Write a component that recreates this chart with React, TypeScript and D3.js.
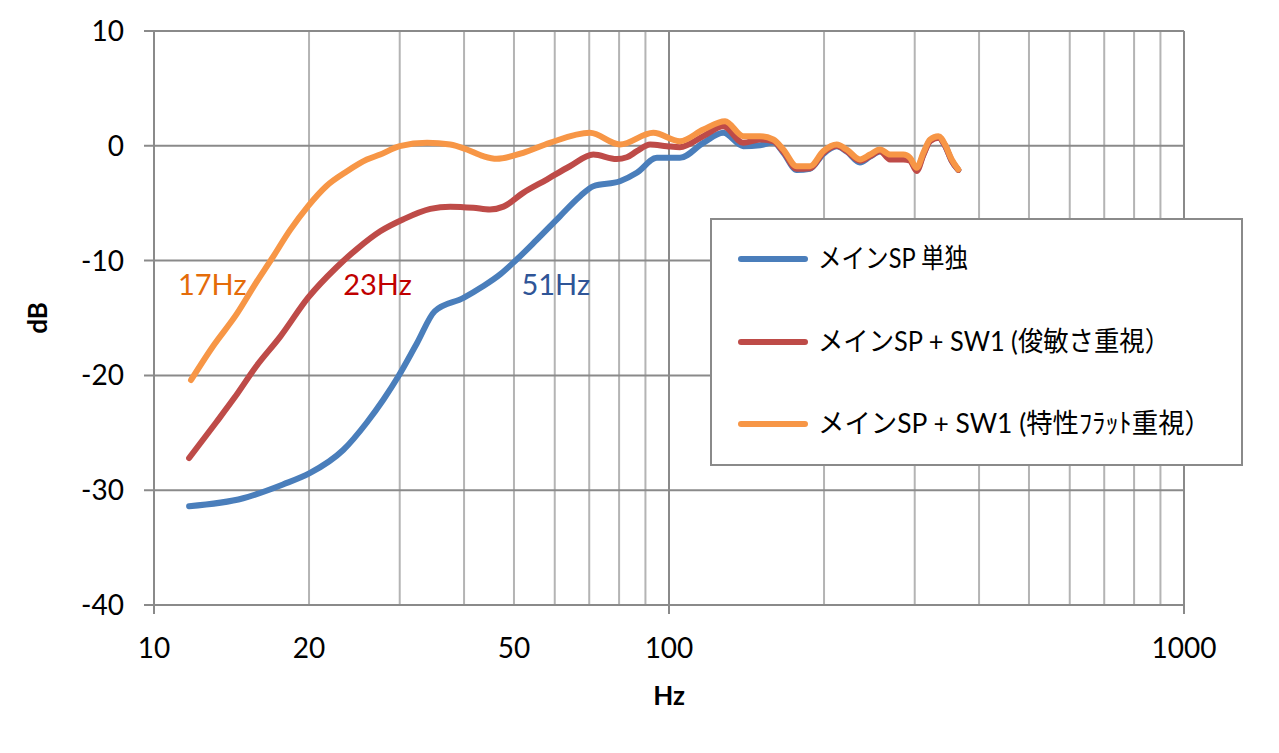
import React from "react";
import * as d3 from "d3";

// ---- data (Hz, dB) ----
const blueFreq = [11.7, 14.9, 17.8, 20.1, 23.3, 25.9, 27.9, 29.8, 32.4, 35.1, 39.9, 43.3, 47.0, 49.8, 55.4, 61.4, 67.2, 71.3, 80.3, 86.6, 94.7, 105, 116.6, 127.5, 139.4, 150.2, 159.4, 166.7, 177, 187.9, 199.4, 211.7, 221.3, 234.9, 245.7, 256.9, 268.6, 285.1, 293.8, 302.7, 311.8, 321.3, 333.4, 343.6, 353.9, 364.5];
const blueDb = [-31.4, -30.7, -29.5, -28.5, -26.5, -24.1, -22.1, -20.1, -17.2, -14.4, -13.25, -12.3, -11.2, -10.2, -8.17, -6.14, -4.39, -3.52, -3.09, -2.35, -1.05, -1.05, 0.26, 1.13, -0.03, 0.05, 0.3, -0.6, -2.1, -2.0, -0.7, -0.05, -0.5, -1.45, -0.95, -0.5, -0.9, -0.9, -1.2, -2.05, -0.75, 0.45, 0.75, 0.0, -1.3, -2.1];

const redFreq = [11.7, 13.2, 14.3, 15.8, 17.6, 19.9, 22.6, 24.7, 27.5, 30.5, 34.4, 37.6, 41.7, 44.9, 47.7, 52.1, 57.9, 64.2, 71.3, 79.1, 82.8, 86.6, 91.9, 99.0, 105, 116.6, 127.5, 139.4, 150.2, 159.4, 166.7, 177, 187.9, 199.4, 211.7, 221.3, 234.9, 245.7, 256.9, 268.6, 285.1, 293.8, 302.7, 311.8, 321.3, 333.4, 343.6, 353.9, 364.5];
const redDb = [-27.2, -24.1, -22.0, -19.2, -16.6, -13.25, -10.6, -9.04, -7.45, -6.4, -5.5, -5.3, -5.4, -5.55, -5.3, -4.1, -2.94, -1.78, -0.76, -1.15, -1.0, -0.47, 0.11, -0.03, -0.12, 0.84, 1.7, 0.26, 0.55, 0.4, -0.5, -2.0, -1.95, -0.6, 0.0, -0.45, -1.3, -0.9, -0.45, -1.2, -1.2, -1.3, -2.2, -0.8, 0.4, 0.7, 0.0, -1.3, -2.1];

const orangeFreq = [11.8, 13.0, 14.5, 15.8, 16.9, 18.4, 19.9, 21.6, 23.7, 25.9, 27.5, 30.0, 33.9, 37.6, 40.5, 43.6, 46.3, 52.1, 58.7, 70.2, 80.3, 93.2, 105, 116.6, 128.5, 139.4, 150.2, 159.4, 166.7, 177, 187.9, 199.4, 211.7, 221.3, 234.9, 245.7, 256.9, 268.6, 285.1, 293.8, 302.7, 311.8, 321.3, 333.4, 343.6, 353.9, 364.5];
const orangeDb = [-20.4, -17.5, -14.6, -11.9, -9.9, -7.3, -5.27, -3.52, -2.22, -1.2, -0.76, -0.03, 0.26, 0.11, -0.32, -0.9, -1.13, -0.61, 0.26, 1.13, 0.11, 1.13, 0.4, 1.42, 2.14, 0.84, 0.84, 0.55, -0.32, -1.78, -1.78, -0.47, 0.11, -0.32, -1.19, -0.76, -0.32, -0.76, -0.76, -1.05, -1.92, -0.61, 0.55, 0.84, 0.11, -1.19, -2.06];

const seriesNames = ["メインSP 単独", "メインSP + SW1 (俊敏さ重視）", "メインSP + SW1 (特性ﾌﾗｯﾄ重視）"];
const seriesColors = ["#4A7EBB", "#BE4B48", "#F79646"];

const yTicks = [10, 0, -10, -20, -30, -40];
const xMajorTicks = [10, 100, 1000];
const xLabelTicks = [10, 20, 50, 100, 1000];
const xMinorTicks = [20, 30, 40, 50, 60, 70, 80, 90, 200, 300, 400, 500, 600, 700, 800, 900];

const annotations = [
  { text: "17Hz", freq: 11.13, db: -12.1, color: "#E46C0A" },
  { text: "23Hz", freq: 23.3, db: -12.1, color: "#C00000" },
  { text: "51Hz", freq: 51.7, db: -12.1, color: "#2F5597" },
];

const W = 1279;
const H = 753;
const FONT = "Lato, 'Noto Sans CJK JP', sans-serif";

export default function App() {
  const x = d3.scaleLog().domain([10, 1000]).range([154, 1184]);
  const y = d3.scaleLinear().domain([-40, 10]).range([605, 31]);

  const line = d3
    .line<[number, number]>()
    .x((d) => x(d[0]))
    .y((d) => y(d[1]))
    .curve(d3.curveMonotoneX);

  const series = [
    { f: blueFreq, v: blueDb },
    { f: redFreq, v: redDb },
    { f: orangeFreq, v: orangeDb },
  ];

  const legendX = 711;
  const legendY = 219;
  const legendW = 531;
  const legendH = 246;
  const legendRows = [259, 342, 424];
  const legendTextLen = [150, 352, 393];

  return (
    <svg
      width={W}
      height={H}
      style={{ position: "fixed", left: 0, top: 0, background: "#fff" }}
      fontFamily={FONT}
    >
      <rect x={0} y={0} width={W} height={H} fill="#fff" />
      {xMinorTicks.map((t) => (
        <line key={"mv" + t} x1={x(t)} x2={x(t)} y1={y(10)} y2={y(-40)} stroke="#b4b4b4" strokeWidth={2} />
      ))}
      {xMajorTicks.map((t) => (
        <line key={"Mv" + t} x1={x(t)} x2={x(t)} y1={y(10)} y2={y(-40) + 9} stroke="#8a8a8a" strokeWidth={2} />
      ))}
      {yTicks.map((t) => (
        <line key={"h" + t} x1={x(10) - 10} x2={x(1000)} y1={y(t)} y2={y(t)} stroke="#8a8a8a" strokeWidth={2} />
      ))}
      {yTicks.map((t) => (
        <text key={"yl" + t} x={124} y={y(t)} dy="0.36em" textAnchor="end" fontSize={28} fill="#000">
          {t}
        </text>
      ))}
      {xLabelTicks.map((t) => (
        <text key={"xl" + t} x={x(t)} y={658} textAnchor="middle" fontSize={28} fill="#000">
          {t}
        </text>
      ))}
      <text x={x(100)} y={705} textAnchor="middle" fontSize={26} fontWeight="bold" fill="#000">
        Hz
      </text>
      <text
        transform={`translate(47, ${y(-15)}) rotate(-90)`}
        textAnchor="middle"
        fontSize={26}
        fontWeight="bold"
        fill="#000"
      >
        dB
      </text>
      {series.map((s, i) => (
        <path
          key={"s" + i}
          d={line(s.f.map((f, j) => [f, s.v[j]] as [number, number])) || ""}
          fill="none"
          stroke={seriesColors[i]}
          strokeWidth={6}
          strokeLinecap="round"
          strokeLinejoin="round"
        />
      ))}
      {annotations.map((a) => (
        <text key={a.text} x={x(a.freq)} y={y(a.db)} dy="0.36em" fontSize={29} fill={a.color}>
          {a.text}
        </text>
      ))}
      <rect x={legendX} y={legendY} width={legendW} height={legendH} fill="#fff" stroke="#8a8a8a" strokeWidth={2} />
      {seriesNames.map((name, i) => (
        <g key={"lg" + i}>
          <line
            x1={741}
            x2={805}
            y1={legendRows[i]}
            y2={legendRows[i]}
            stroke={seriesColors[i]}
            strokeWidth={6}
            strokeLinecap="round"
          />
          <text
            x={818}
            y={legendRows[i]}
            dy="0.34em"
            fontSize={27}
            fill="#000"
            textLength={legendTextLen[i]}
            lengthAdjust="spacingAndGlyphs"
          >
            {name}
          </text>
        </g>
      ))}
    </svg>
  );
}
